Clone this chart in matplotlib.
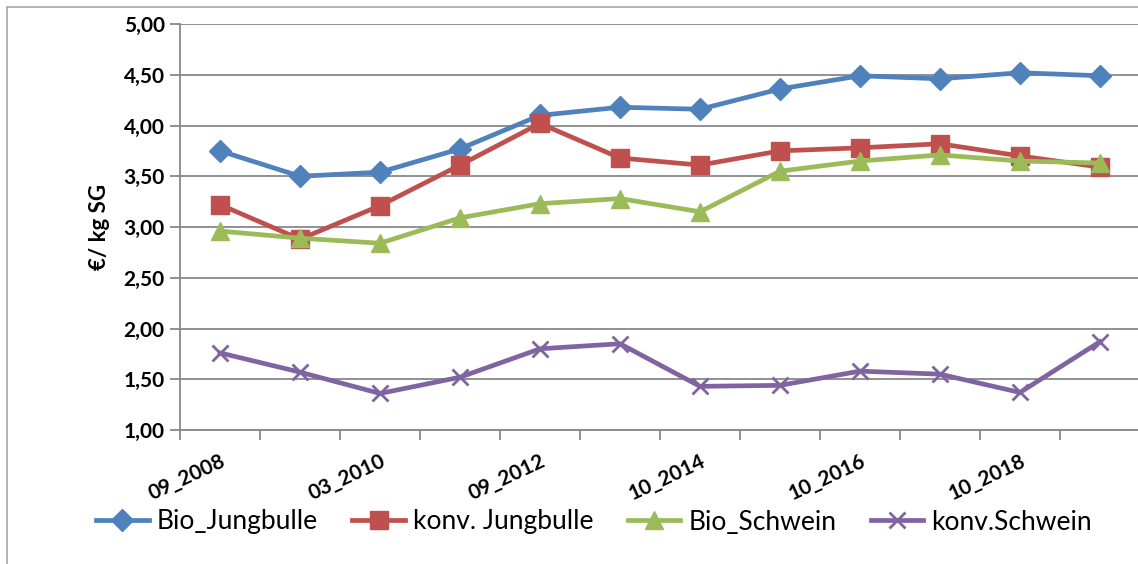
import matplotlib.pyplot as plt
import numpy as np
from matplotlib.patches import Rectangle

plt.rcParams['font.family'] = ['Lato', 'DejaVu Sans']

# x categories (only every other one is labelled in the chart)
categories = ['09_2008', '', '03_2010', '', '09_2012', '', '10_2014', '', '10_2016', '', '10_2018', '']

bio_jungbulle = [3.75, 3.50, 3.54, 3.77, 4.10, 4.18, 4.16, 4.36, 4.49, 4.46, 4.52, 4.49]
konv_jungbulle = [3.22, 2.88, 3.21, 3.61, 4.02, 3.68, 3.61, 3.75, 3.78, 3.82, 3.70, 3.59]
bio_schwein = [2.96, 2.89, 2.84, 3.09, 3.23, 3.28, 3.15, 3.55, 3.65, 3.71, 3.65, 3.63]
konv_schwein = [1.76, 1.57, 1.36, 1.52, 1.80, 1.85, 1.43, 1.44, 1.58, 1.55, 1.37, 1.87]

yticks = [1.0, 1.5, 2.0, 2.5, 3.0, 3.5, 4.0, 4.5, 5.0]

W, H = 1138, 564
fig = plt.figure(figsize=(W / 100, H / 100), dpi=100)

# outer chart frame
fig.patches.append(Rectangle((7 / W, -0.1), 1.2, (H - 7) / H + 0.1, transform=fig.transFigure,
                             fill=False, edgecolor='#a6a6a6', linewidth=1.2))

ax = fig.add_axes([180 / W, (H - 430) / H, 960 / W, 406 / H])
x = np.arange(len(categories))

ax.plot(x, bio_jungbulle, color='#4f81bd', lw=3.4, marker='D', ms=11, label='Bio_Jungbulle', zorder=3)
ax.plot(x, konv_jungbulle, color='#c0504d', lw=3.4, marker='s', ms=13, label='konv. Jungbulle', zorder=3)
ax.plot(x, bio_schwein, color='#9bbb59', lw=3.4, marker='^', ms=13, label='Bio_Schwein', zorder=3)
ax.plot(x, konv_schwein, color='#8064a2', lw=3.4, marker='x', ms=12, mew=2, label='konv.Schwein', zorder=3)

ax.set_xlim(-0.5, len(categories) - 0.5)
ax.set_ylim(1.0, 5.0)
ax.set_yticks(yticks)
ax.set_yticklabels([f'{v:.2f}'.replace('.', ',') for v in yticks], fontsize=15, fontweight='bold')
ax.grid(axis='y', color='#888888', lw=1.3)
ax.set_axisbelow(True)

# tick marks at category boundaries, labels on every other category
ax.set_xticks(np.arange(-0.5, len(categories), 1.0))
ax.set_xticklabels([])
ax.tick_params(axis='x', which='major', length=7, width=1.3, color='#888888')
lab_pos = [i for i, c in enumerate(categories) if c]
ax.set_xticks(lab_pos, minor=True)
ax.set_xticklabels([categories[i] for i in lab_pos], minor=True, rotation=25, ha='right',
                   rotation_mode='anchor', fontsize=15, fontweight='bold')
ax.tick_params(axis='x', which='minor', length=0, pad=15)
ax.tick_params(axis='y', length=7, width=1.3, color='#888888', pad=4)

for s in ['top', 'right']:
    ax.spines[s].set_visible(False)
for s in ['left', 'bottom']:
    ax.spines[s].set_color('#888888')
    ax.spines[s].set_linewidth(1.3)

ax.set_ylabel('€/ kg SG', fontsize=16, fontweight='bold', labelpad=10)

fig.legend(loc='center', bbox_to_anchor=(594 / W, (H - 522) / H), ncol=4, frameon=False,
           fontsize=19, handlelength=2.0, columnspacing=1.3, handletextpad=0.3)

fig.savefig('out.png', dpi=100)
